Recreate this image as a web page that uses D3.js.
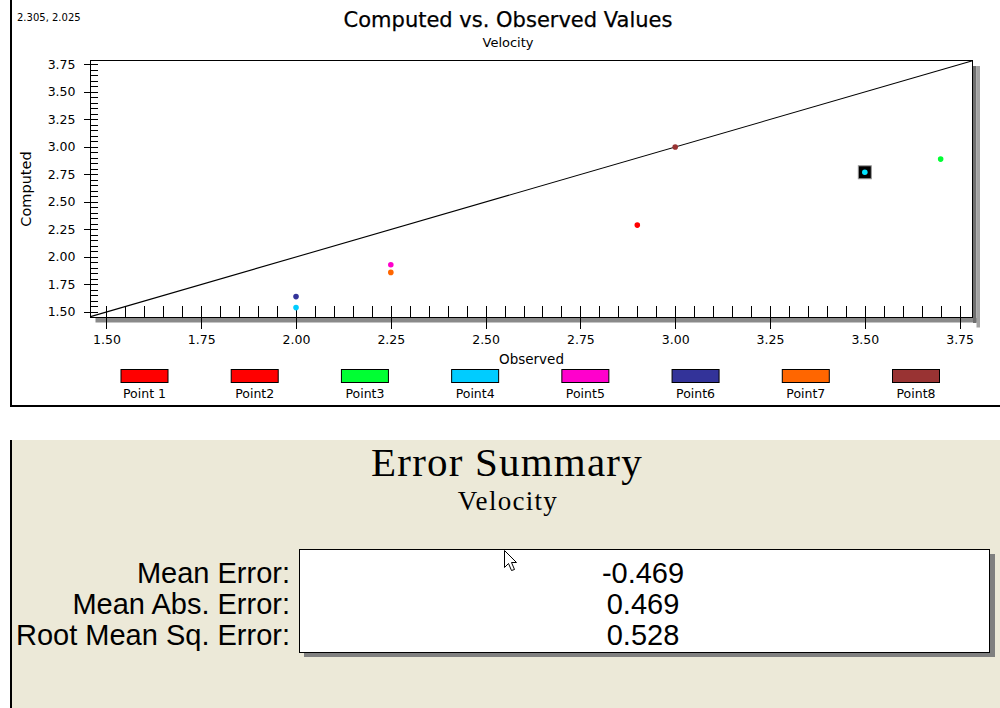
<!DOCTYPE html>
<html>
<head>
<meta charset="utf-8">
<script src="https://cdn.jsdelivr.net/npm/d3@7"></script>
<style>
  body { margin: 0; background: #fff; }
  svg { display: block; }
</style>
</head>
<body>
<svg id="chart" width="1000" height="708"></svg>
<script>
// ---- data ----
const seriesNames = ["Point 1", "Point2", "Point3", "Point4", "Point5", "Point6", "Point7", "Point8"];
const observedValues = [2.90, 3.50, 3.70, 2.00, 2.25, 2.00, 2.25, 3.00];
const computedValues = [2.29, 2.77, 2.89, 1.54, 1.93, 1.64, 1.86, 3.00];
const seriesColors = ["#ff0000", "#ff0000", "#00ff33", "#00ccff", "#ff00cc", "#333399", "#ff6600", "#993333"];
const selectedIndex = 1;
const selectedColor = "#00e5ff";
const majorTicks = [1.50, 1.75, 2.00, 2.25, 2.50, 2.75, 3.00, 3.25, 3.50, 3.75];
const tickLabels = ["1.50", "1.75", "2.00", "2.25", "2.50", "2.75", "3.00", "3.25", "3.50", "3.75"];
const xDomain = [1.458, 3.784];
const yDomain = [1.45, 3.786];
const cursorReadout = "2.305, 2.025";
const summaryLabels = ["Mean Error:", "Mean Abs. Error:", "Root Mean Sq. Error:"];
const summaryValues = ["-0.469", "0.469", "0.528"];

const svg = d3.select("#chart");
const sans = "'DejaVu Sans', Verdana, sans-serif";
const arial = "'Liberation Sans', Arial, sans-serif";
const serif = "'Liberation Serif', 'Times New Roman', serif";

// ---- panels ----
svg.append("rect").attr("width", 1000).attr("height", 708).attr("fill", "#fff");
svg.append("rect").attr("x", 10).attr("y", 0).attr("width", 2).attr("height", 407).attr("fill", "#000");
svg.append("rect").attr("x", 10).attr("y", 405).attr("width", 990).attr("height", 2).attr("fill", "#000");
svg.append("rect").attr("x", 12).attr("y", 440).attr("width", 988).attr("height", 268).attr("fill", "#ece9d8");
svg.append("rect").attr("x", 10).attr("y", 440).attr("width", 2).attr("height", 268).attr("fill", "#000");

// ---- scales ----
const x = d3.scaleLinear().domain(xDomain).range([90.5, 972.5]);
const y = d3.scaleLinear().domain(yDomain).range([317.5, 60.5]);
const [x0, x1] = x.range();
const [yb, yt] = y.range();

// drop shadow of the plot frame
svg.append("rect").attr("x", x0 + 5).attr("y", yb + 0.5).attr("width", x1 - x0 + 2).attr("height", 4.5).attr("fill", "#8a8a8a");
svg.append("rect").attr("x", x1 + 0.5).attr("y", yt + 5.5).attr("width", 3.5).attr("height", yb - yt).attr("fill", "#6e6e6e");
svg.append("rect").attr("x", x1 + 4).attr("y", yt + 5.5).attr("width", 3.5).attr("height", yb - yt + 4.5).attr("fill", "#a3a3a3");

// plot frame
svg.append("rect").attr("x", x0).attr("y", yt).attr("width", x1 - x0).attr("height", yb - yt)
  .attr("fill", "#fff").attr("stroke", "#000").attr("stroke-width", 1);

// ---- axes ----
const fmt = v => tickLabels[majorTicks.indexOf(v)];
const minorTicks = d3.range(0, 46).map(i => +(1.5 + i * 0.05).toFixed(2)).filter(v => !majorTicks.includes(v));

const xMinor = svg.append("g").attr("transform", `translate(0,${yb})`)
  .call(d3.axisBottom(x).tickValues(minorTicks).tickSize(-11.5).tickFormat(""));
const xMajor = svg.append("g").attr("transform", `translate(0,${yb})`)
  .call(d3.axisBottom(x).tickValues(majorTicks).tickSize(11).tickFormat(fmt));
xMajor.selectAll(".tick line").attr("y1", -11.5);
xMajor.selectAll(".tick text").attr("y", 18).attr("dy", "0.71em");

const yMinor = svg.append("g").attr("transform", `translate(${x0},0)`)
  .call(d3.axisLeft(y).tickValues(minorTicks).tickSize(-7).tickFormat(""));
const yMajor = svg.append("g").attr("transform", `translate(${x0},0)`)
  .call(d3.axisLeft(y).tickValues(majorTicks).tickSize(7).tickPadding(8).tickFormat(fmt));
yMajor.selectAll(".tick line").attr("x1", 7);

[xMinor, xMajor, yMinor, yMajor].forEach(g => {
  g.select(".domain").remove();
  g.selectAll(".tick line").attr("stroke", "#000").attr("shape-rendering", "crispEdges");
  g.selectAll(".tick text").attr("fill", "#000").attr("font-family", sans).attr("font-size", 12.5);
});

// 1:1 reference line
const lineEnds = [Math.max(xDomain[0], yDomain[0]), Math.min(xDomain[1], yDomain[1])];
svg.append("line")
  .attr("x1", x(lineEnds[0])).attr("y1", y(lineEnds[0]))
  .attr("x2", x(lineEnds[1])).attr("y2", y(lineEnds[1]))
  .attr("stroke", "#000").attr("stroke-width", 1.1);

// ---- points ----
const points = seriesNames.map((name, i) => ({ name, obs: observedValues[i], comp: computedValues[i], color: seriesColors[i], i }));
const sel = points[selectedIndex];
svg.append("rect")
  .attr("x", x(sel.obs) - 6.5).attr("y", y(sel.comp) - 6.5)
  .attr("width", 13).attr("height", 13)
  .attr("fill", "#000").attr("stroke", "#9a9a9a").attr("stroke-width", 1);
svg.append("g").selectAll("circle").data(points).join("circle")
  .attr("cx", d => x(d.obs)).attr("cy", d => y(d.comp)).attr("r", 2.8)
  .attr("fill", d => d.i === selectedIndex ? selectedColor : d.color);

// ---- titles ----
svg.append("text").attr("x", 508).attr("y", 27).attr("text-anchor", "middle")
  .attr("font-family", sans).attr("font-size", 21).attr("stroke", "#000").attr("stroke-width", 0.25)
  .text("Computed vs. Observed Values");
svg.append("text").attr("x", 508).attr("y", 47).attr("text-anchor", "middle")
  .attr("font-family", sans).attr("font-size", 13).text("Velocity");
svg.append("text").attr("x", 17).attr("y", 21)
  .attr("font-family", sans).attr("font-size", 10).text(cursorReadout);
svg.append("text").attr("x", (x0 + x1) / 2).attr("y", 364).attr("text-anchor", "middle")
  .attr("font-family", sans).attr("font-size", 13.5).text("Observed");
svg.append("text").attr("transform", `translate(31,${(yt + yb) / 2}) rotate(-90)`).attr("text-anchor", "middle")
  .attr("font-family", sans).attr("font-size", 14.5).text("Computed");

// ---- legend ----
const lx = d3.scalePoint().domain(seriesNames).range([144.5, 916]);
const legend = svg.append("g").selectAll("g").data(points).join("g")
  .attr("transform", d => `translate(${lx(d.name)},0)`);
legend.append("rect").attr("x", -23.5).attr("y", 369.5).attr("width", 47).attr("height", 13)
  .attr("fill", d => d.color).attr("stroke", "#000").attr("stroke-width", 1);
legend.append("text").attr("y", 398).attr("text-anchor", "middle")
  .attr("font-family", sans).attr("font-size", 12.5).text(d => d.name);

// ---- error summary ----
svg.append("text").attr("x", 507).attr("y", 476).attr("text-anchor", "middle")
  .attr("font-family", serif).attr("font-size", 41).attr("letter-spacing", 1.2).text("Error Summary");
svg.append("text").attr("x", 508).attr("y", 510).attr("text-anchor", "middle")
  .attr("font-family", serif).attr("font-size", 27).attr("letter-spacing", 1.3).text("Velocity");

svg.append("rect").attr("x", 304).attr("y", 554).attr("width", 691).attr("height", 103).attr("fill", "#808080");
svg.append("rect").attr("x", 299.5).attr("y", 549.5).attr("width", 690).attr("height", 103)
  .attr("fill", "#fff").attr("stroke", "#000").attr("stroke-width", 1);

const rowY = d3.scalePoint().domain(summaryLabels).range([583, 645]);
svg.append("g").selectAll("text").data(summaryLabels).join("text")
  .attr("x", 290).attr("y", d => rowY(d)).attr("text-anchor", "end")
  .attr("font-family", arial).attr("font-size", 29).text(d => d);
svg.append("g").selectAll("text").data(summaryValues).join("text")
  .attr("x", 643).attr("y", (d, i) => rowY(summaryLabels[i])).attr("text-anchor", "middle")
  .attr("font-family", arial).attr("font-size", 29).text(d => d);

// mouse pointer
svg.append("path")
  .attr("transform", "translate(504.5,550.5)")
  .attr("d", "M0,0 L0,17 L4,13 L7,20 L10,19 L7,12 L12,12 Z")
  .attr("fill", "#fff").attr("stroke", "#000").attr("stroke-width", 1);
</script>
</body>
</html>
